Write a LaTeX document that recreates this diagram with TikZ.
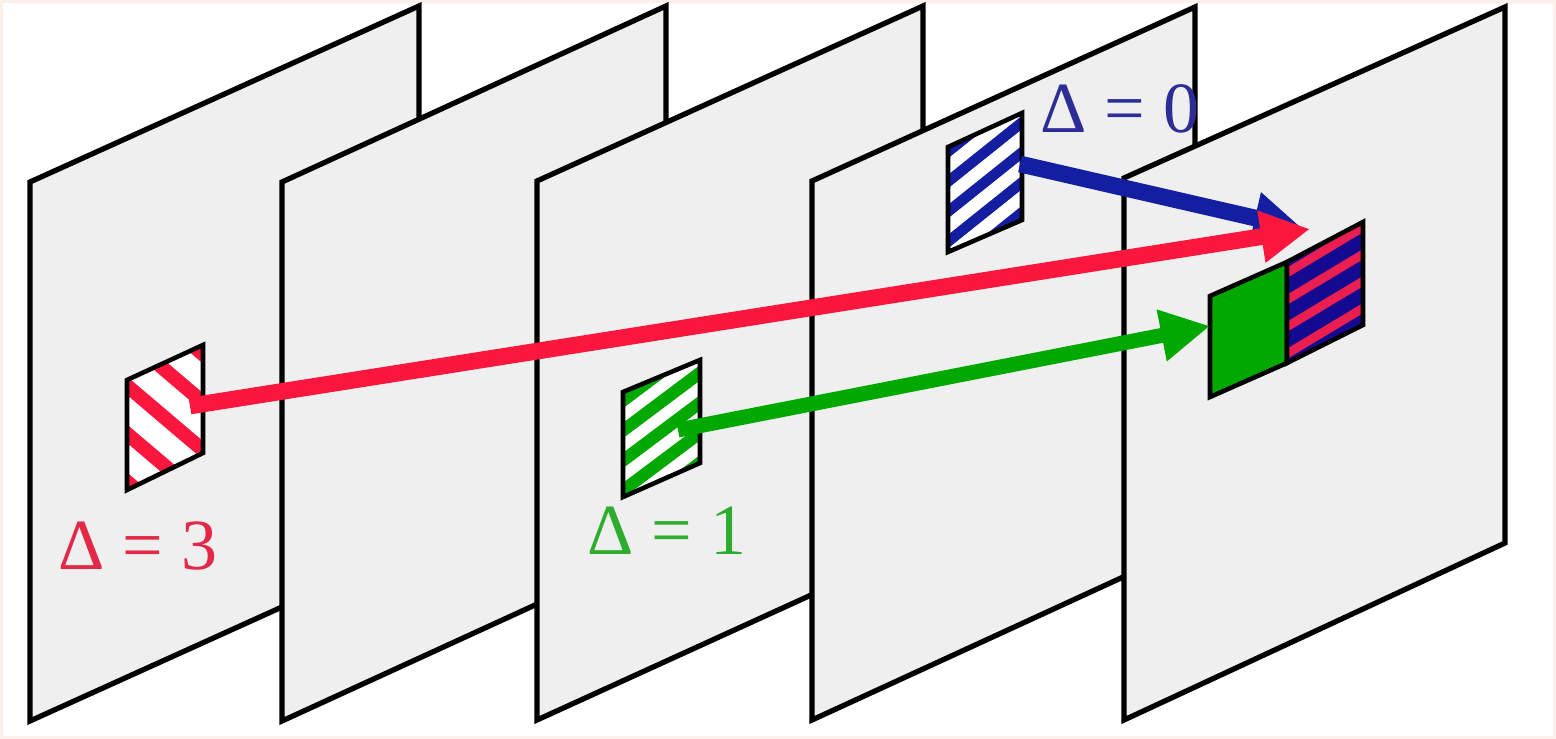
\documentclass[tikz,border=0pt]{standalone}
\usepackage{fontspec}
\setmainfont{Liberation Serif}
\usetikzlibrary{arrows.meta}
\definecolor{framefill}{RGB}{239,239,239}
\definecolor{redA}{RGB}{250,22,60}
\definecolor{redT}{RGB}{228,40,72}
\definecolor{greenA}{RGB}{0,168,0}
\definecolor{greenT}{RGB}{46,172,46}
\definecolor{blueA}{RGB}{20,30,160}
\definecolor{blueT}{RGB}{45,45,150}
\definecolor{blueP}{RGB}{20,10,145}
\definecolor{redS}{RGB}{235,30,80}
\definecolor{peach}{RGB}{252,240,234}
\begin{document}
\begin{tikzpicture}[x=0.02cm,y=-0.02cm,
  frame/.style={fill=framefill,draw=black,line width=3pt},
  patch/.style={draw=black,line width=2.6pt},
  flow/.style={line width=9.5pt,-{Triangle[length=28pt,width=28pt]}},
  lbl/.style={font=\fontsize{41}{41}\selectfont,inner sep=0pt,anchor=base west}]
\useasboundingbox (0,0) rectangle (1556,739);
\fill[white] (0,0) rectangle (1556,739);
\draw[peach,line width=3pt] (0,0) rectangle (1556,739);

% frames
\filldraw[frame] (30,182) -- (419,6) -- (419,545) -- (30,721) -- cycle;
\filldraw[frame] (282,182) -- (666,6) -- (666,545) -- (282,721) -- cycle;
\filldraw[frame] (537,181) -- (923,6) -- (923,544) -- (537,720) -- cycle;
\filldraw[frame] (812,181) -- (1195,7) -- (1195,544) -- (812,720) -- cycle;
\filldraw[frame] (1124,178) -- (1505,7) -- (1505,543) -- (1124,720) -- cycle;

% red patch (frame 1)
\begin{scope}
  \clip (127,380) -- (203,345) -- (203,453) -- (127,490) -- cycle;
  \fill[white] (120,340) rectangle (210,495);
  \foreach \c in {322,370,418,466,514}
    \draw[redA,line width=8pt] (65,\c-85) -- (265,\c+85);
\end{scope}
\draw[patch] (127,380) -- (203,345) -- (203,453) -- (127,490) -- cycle;

% green patch (frame 3)
\begin{scope}
  \clip (623,392) -- (700,360) -- (700,463) -- (623,497) -- cycle;
  \fill[white] (615,355) rectangle (705,500);
  \foreach \c in {372,402,432,462,492}
    \draw[greenA,line width=7pt] (561,\c+75) -- (761,\c-75);
\end{scope}
\draw[patch] (623,392) -- (700,360) -- (700,463) -- (623,497) -- cycle;

% blue patch (frame 4)
\begin{scope}
  \clip (948,147) -- (1022,113) -- (1022,220) -- (948,252) -- cycle;
  \fill[white] (940,105) rectangle (1030,260);
  \foreach \c in {122,152,182,212,242}
    \draw[blueA,line width=6pt] (885,\c+80) -- (1085,\c-80);
\end{scope}
\draw[patch] (948,147) -- (1022,113) -- (1022,220) -- (948,252) -- cycle;

% combined patches (frame 5)
\filldraw[fill=greenA,patch] (1210,296) -- (1287,262) -- (1287,363) -- (1210,397) -- cycle;
\begin{scope}
  \clip (1287,262) -- (1363,222) -- (1363,325) -- (1287,363) -- cycle;
  \fill[blueP] (1280,215) rectangle (1370,370);
  \foreach \c in {250,277,304,331,358}
    \draw[redS,line width=5pt] (1225,\c+60) -- (1425,\c-60);
\end{scope}
\draw[patch] (1287,262) -- (1363,222) -- (1363,325) -- (1287,363) -- cycle;

% labels
\node[lbl,text=redT]   (d3) at (58,570)  {Δ = 3};
\node[lbl,text=greenT] (d1) at (587,555) {Δ = 1};
\node[lbl,text=blueT]  (d0) at (1040,133) {Δ = 0};

% arrow ends
\coordinate (bsrc) at (1020,164);
\coordinate (btip) at (1303,229);
\coordinate (rsrc) at (190,406);
\coordinate (rtip) at (1310,229);
\coordinate (gsrc) at (678,430);
\coordinate (gtip) at (1210,326);

\draw[flow,blueA]  (bsrc) -- (btip);
\draw[flow,redA]   (rsrc) -- (rtip);
\draw[flow,greenA,line width=8.5pt] (gsrc) -- (gtip);
\end{tikzpicture}
\end{document}
